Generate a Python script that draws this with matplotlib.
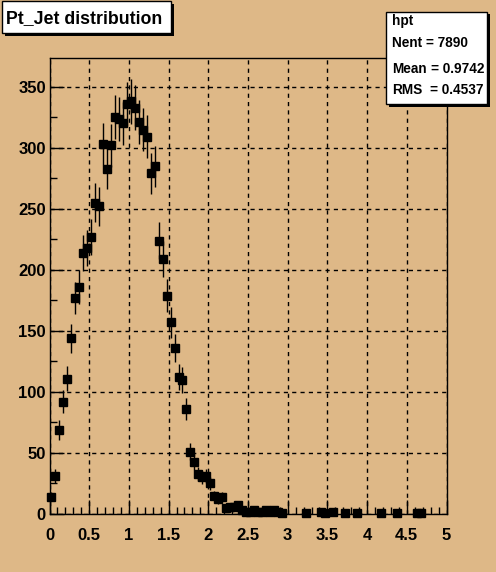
import numpy as np
import matplotlib
matplotlib.use("Agg")
import matplotlib.pyplot as plt
from matplotlib.patches import Rectangle

# ── Data ──────────────────────────────────────────────────────────────────────
X_MIN, X_MAX, N_BINS = 0.0, 5.0, 100
COUNTS = [
    14, 31, 69, 92, 111, 144, 177, 186, 214, 218,
    227, 255, 252, 303, 283, 302, 325, 324, 320, 336,
    338, 333, 321, 315, 309, 279, 285, 224, 209, 179,
    157, 136, 112, 110, 86, 51, 43, 33, 30, 31,
    25, 15, 12, 14, 5, 6, 6, 7, 3, 2,
    2, 3, 2, 2, 3, 2, 3, 2, 1, 0,
    0, 0, 0, 0, 1, 0, 0, 0, 2, 1,
    0, 2, 0, 0, 1, 0, 0, 1, 0, 0,
    0, 0, 0, 1, 0, 0, 0, 1, 0, 0,
    0, 0, 1, 1, 0, 0, 0, 0, 0, 0,
]
TITLE = "Pt_Jet distribution"
STATS_NAME = "hpt"
STATS_ROWS = [("Nent = 7890", ""), ("Mean", "= 0.9742"), ("RMS", "= 0.4537")]
X_TICKS = [0, 0.5, 1, 1.5, 2, 2.5, 3, 3.5, 4, 4.5, 5]
X_TICK_LABELS = ["0", "0.5", "1", "1.5", "2", "2.5", "3", "3.5", "4", "4.5", "5"]
Y_TICKS = [0, 50, 100, 150, 200, 250, 300, 350]
Y_MAX = 374

BG = "#DEB887"
W, H = 496, 572
FONT = "Liberation Sans"


def fx(x):
    return x / W


def fy(y):
    return 1 - y / H


fig = plt.figure(figsize=(W / 100, H / 100), dpi=100, facecolor=BG)
ax = fig.add_axes([fx(49.5), fy(514), fx(446.5) - fx(49.5), fy(57.5) - fy(514)])
ax.set_facecolor(BG)

counts = np.array(COUNTS, dtype=float)
width = (X_MAX - X_MIN) / N_BINS
centers = X_MIN + width * (np.arange(N_BINS) + 0.5)
mask = counts > 0

eb = ax.errorbar(centers[mask], counts[mask], yerr=np.sqrt(counts[mask]),
                 xerr=width / 2, fmt="s", color="black", ms=5.5, elinewidth=1.0,
                 capsize=0, zorder=3)
# ROOT markers spill over the frame at the bottom
eb[0].set_clip_on(False)

ax.set_xlim(X_MIN, X_MAX)
ax.set_ylim(0, Y_MAX)

ax.set_xticks(X_TICKS)
ax.set_xticklabels(X_TICK_LABELS)
ax.set_xticks(np.arange(0, 5.01, 0.1), minor=True)
ax.set_yticks(Y_TICKS)
ax.set_yticks(np.arange(0, Y_MAX, 25), minor=True)

ax.tick_params(which="both", direction="in", top=False, right=False,
               color="black", width=1.0)
ax.tick_params(which="major", length=10)
ax.tick_params(which="minor", length=5)
ax.tick_params(axis="x", which="major", pad=10)
ax.tick_params(axis="y", which="major", pad=2.6)
for lab in ax.get_xticklabels() + ax.get_yticklabels():
    lab.set_fontfamily(FONT)
    lab.set_fontweight("bold")
    lab.set_fontsize(12)

ax.grid(True, which="major", color="black", ls=(0, (3, 3)), lw=1.0)
for sp in ax.spines.values():
    sp.set_linewidth(1.0)
    sp.set_color("black")


# Boxes with ROOT-style shadow
def box(x0, y0, x1, y1, shadow=3):
    fig.patches.append(Rectangle((fx(x0 + shadow), fy(y1 + shadow)),
                                 fx(x1 - x0), fy(y0) - fy(y1),
                                 transform=fig.transFigure, facecolor="black",
                                 edgecolor="none", zorder=5))
    fig.patches.append(Rectangle((fx(x0), fy(y1)), fx(x1 - x0), fy(y0) - fy(y1),
                                 transform=fig.transFigure, facecolor="white",
                                 edgecolor="black", lw=1.0, zorder=6))


box(1.5, 1.0, 170.5, 33.0)
fig.text(fx(6), fy(23.5), TITLE, fontfamily=FONT, fontweight="bold",
         fontsize=12.8, va="baseline", ha="left", zorder=7)

# Stats box
box(386, 11.5, 486.5, 104.0)
fig.text(fx(391.7), fy(25), STATS_NAME, fontfamily=FONT, fontweight="bold",
         fontsize=9.8, va="baseline", ha="left", zorder=7)
for (left, right), base in zip(STATS_ROWS, [47.3, 73.3, 94.0]):
    fig.text(fx(391.7), fy(base), left, fontfamily=FONT, fontweight="bold",
             fontsize=9.8, va="baseline", ha="left", zorder=7)
    if right:
        fig.text(fx(484), fy(base), right, fontfamily=FONT, fontweight="bold",
                 fontsize=9.8, va="baseline", ha="right", zorder=7)

fig.savefig("out.png", dpi=100, facecolor=BG)
